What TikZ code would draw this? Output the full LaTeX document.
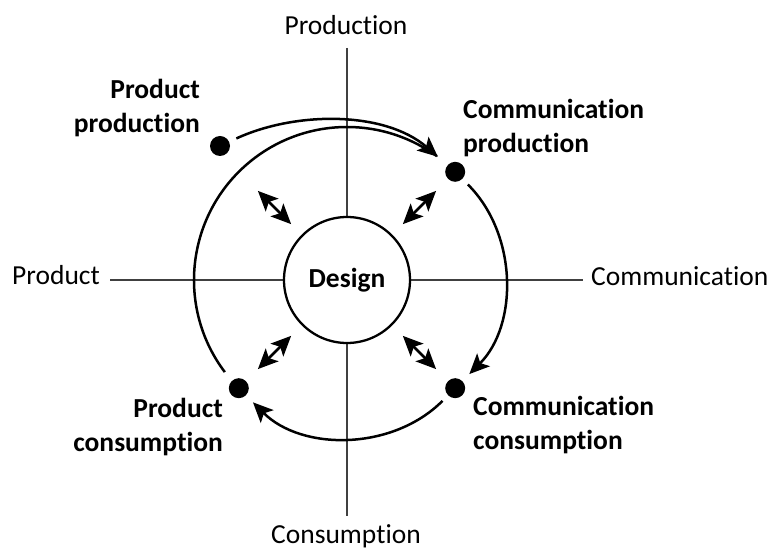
\documentclass[tikz,border=0pt]{standalone}
\usepackage{fontspec}
\setmainfont{Carlito}[Ligatures=NoCommon]
\usetikzlibrary{arrows.meta,calc}
\begin{document}
\begin{tikzpicture}[x=1pt,y=1pt,
  lbl/.style={font=\fontsize{27.5pt}{34.5pt}\selectfont, inner sep=0pt},
  blbl/.style={font=\fontsize{27.5pt}{34.5pt}\selectfont\bfseries, inner sep=0pt},
  axis/.style={line width=1.6pt, black!75},
  ring/.style={line width=2.5pt},
  tip/.tip={Stealth[length=20pt,width=18pt,inset=4.5pt]},
  flow/.style={ring, -tip},
  link/.style={ring, tip-tip, shorten <=16pt},
  dot/.style={circle, fill, inner sep=0pt, minimum size=20pt, outer sep=0pt},
  hub/.style={circle, draw, line width=2.3pt, fill=white, minimum size=126pt,
              inner sep=0pt, outer sep=0pt}]
\useasboundingbox (0,0) rectangle (771,549);

% centre of the two circles
\coordinate (c) at (347,269);

% axes and their end labels
\coordinate (axN) at (347,501);
\coordinate (axS) at (347,33);
\coordinate (axW) at (110,269);
\coordinate (axE) at (583,269);
\draw[axis] (axW) -- (axE);
\draw[axis] (axN) -- (axS);
\node[lbl, anchor=base] (tProd) at (346,514) {Production};
\node[lbl, anchor=base] (tCons) at (346,6) {Consumption};
\node[lbl, anchor=base east] (tProduct) at (100,264) {Product};
\node[lbl, anchor=base west] (tComm) at (591,263) {Communication};

% the four stations
\node[dot] (pp) at (220,403) {};
\node[dot] (cp) at ($(c)+(45:153)$) {};
\node[dot] (cc) at ($(c)+(-45:153)$) {};
\node[dot] (pc) at ($(c)+(225:153)$) {};
\coordinate (ul) at ($(c)+(135:153)$);

% outer cycle
\draw[ring] ($(c)+(217:153)$) arc[start angle=217, end angle=54, radius=153];
\draw[flow, shorten <=8pt, shorten >=13pt] (pp) .. controls (296,438) and (385,438) .. (cp);
\draw[flow, shorten <=8pt, shorten >=10pt] (cp) to[bend left=45] (cc);
\draw[flow, shorten <=8pt, shorten >=10pt] (cc) to[bend left=45] (pc);

% centre
\node[hub] (design) at (c) {\fontsize{27.5pt}{34.5pt}\selectfont\bfseries Design};

% exchanges between the centre and the stations
\draw[link, shorten >=27pt] (design) -- (ul);
\draw[link, shorten >=17pt] (design) -- (cp);
\draw[link, shorten >=17pt] (design) -- (cc);
\draw[link, shorten >=17pt] (design) -- (pc);

% station labels (anchored on the baseline of their second line)
\node[blbl, align=right, anchor=base east] (lpp) at (200,416) {Product\\production};
\node[blbl, align=left, anchor=base west] (lcp) at (463,396) {Communication\\production};
\node[blbl, align=right, anchor=base east] (lpc) at (223,97) {Product\\consumption};
\node[blbl, align=left, anchor=base west] (lcc) at (473,99) {Communication\\consumption};
\end{tikzpicture}
\end{document}
